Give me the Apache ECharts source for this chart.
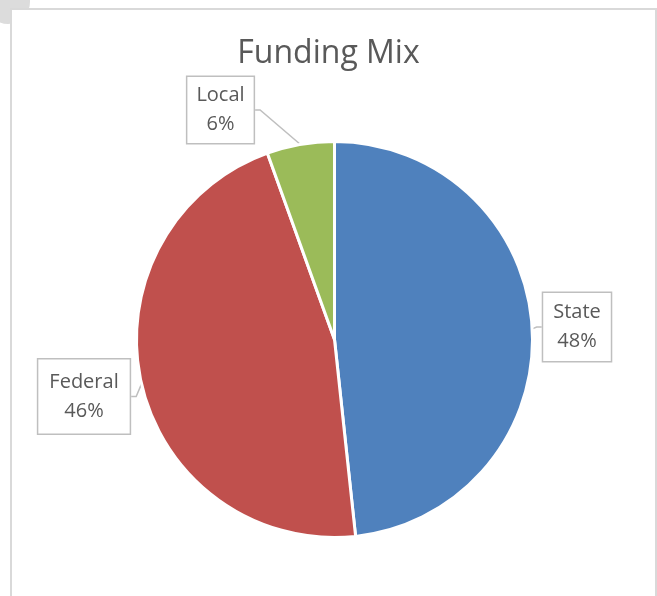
<!DOCTYPE html>
<html>
<head>
<meta charset="utf-8">
<script src="https://cdn.jsdelivr.net/npm/echarts@6/dist/echarts.min.js"></script>
<style>
html,body{margin:0;padding:0;background:#fff;}
#c{width:657px;height:596px;}
</style>
</head>
<body>
<div id="c"></div>
<script>
const categories = ['State', 'Federal', 'Local'];
const values = [48.3, 46.2, 5.5];
const colors = ['#4f81bd', '#c0504d', '#9bbb59'];
const labelCenters = [[577, 327], [84, 396.5], [220.5, 110]];
const labelPads = [[5, 10], [8, 11], [4, 9]];

const chart = echarts.init(document.getElementById('c'));
chart.setOption({
  animation: false,
  graphic: [
    { type: 'circle', shape: { cx: 8, cy: 2, r: 22 }, style: { fill: '#dcdcdc' }, z: -10 },
    { type: 'rect', shape: { x: 11, y: 9, width: 645, height: 600 }, style: { fill: '#fff', stroke: '#d9d9d9', lineWidth: 2 }, z: -5 }
  ],
  title: {
    text: 'Funding Mix',
    left: 'center',
    top: 33,
    textStyle: { fontFamily: 'Open Sans', fontSize: 32, fontWeight: 'normal', color: '#595959' }
  },
  series: [{
    type: 'pie',
    center: [334.5, 339.5],
    radius: 198,
    startAngle: 90,
    clockwise: true,
    percentPrecision: 0,
    avoidLabelOverlap: false,
    itemStyle: { borderColor: '#fff', borderWidth: 3 },
    label: {
      show: true,
      position: 'outside',
      formatter: '{b}\n{d}%',
      fontFamily: 'Open Sans',
      fontSize: 20,
      lineHeight: 29,
      color: '#595959',
      align: 'center',
      backgroundColor: '#fff',
      borderColor: '#bfbfbf',
      borderWidth: 1.5
    },
    labelLine: { show: true, length: 10, length2: 5, lineStyle: { color: '#bfbfbf', width: 1.5 } },
    labelLayout: function (p) {
      const c = labelCenters[p.dataIndex];
      return { x: c[0], y: c[1], align: 'center', verticalAlign: 'middle' };
    },
    data: categories.map((n, i) => ({
      name: n,
      value: values[i],
      itemStyle: { color: colors[i] },
      label: { padding: labelPads[i] }
    }))
  }]
});
</script>
</body>
</html>
